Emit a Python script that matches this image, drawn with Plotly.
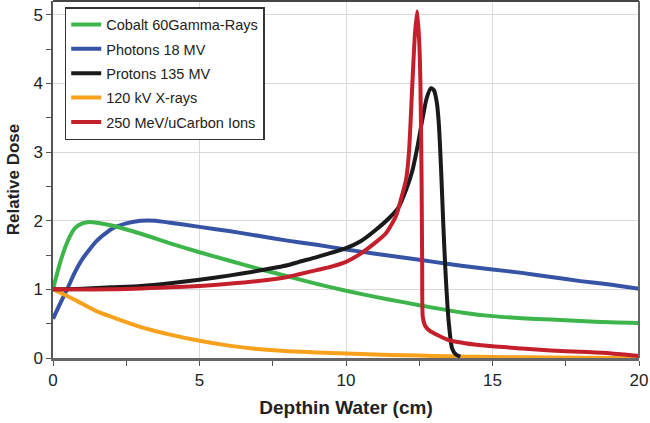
import plotly.graph_objects as go

# ---- data ----
cobalt_x = [0, 0.25, 0.5, 0.75, 1.0, 1.25, 1.5, 2, 3, 4, 5, 6, 7, 8, 9, 10, 11, 12, 13, 14, 15, 16, 17, 18, 19, 20]
cobalt_y = [1.0, 1.4, 1.7, 1.89, 1.96, 1.98, 1.97, 1.93, 1.81, 1.67, 1.54, 1.42, 1.3, 1.19, 1.08, 0.98, 0.89, 0.81, 0.73, 0.66, 0.61, 0.58, 0.56, 0.54, 0.52, 0.51]

photon_x = [0, 0.25, 0.5, 0.75, 1, 1.5, 2, 2.5, 3, 3.5, 4, 5, 6, 7, 8, 9, 10, 11, 12, 13, 14, 15, 16, 17, 18, 19, 20]
photon_y = [0.57, 0.8, 1.02, 1.25, 1.44, 1.71, 1.88, 1.96, 2.0, 2.0, 1.97, 1.91, 1.85, 1.78, 1.71, 1.65, 1.58, 1.52, 1.46, 1.4, 1.34, 1.29, 1.24, 1.18, 1.12, 1.07, 1.01]

proton_x = [0, 1, 2, 3, 4, 5, 6, 7, 8, 8.4, 9, 10, 10.5, 11, 11.5, 11.8, 12.05, 12.26, 12.45, 12.6, 12.75, 12.9, 13.0, 13.1, 13.17, 13.25, 13.32, 13.39, 13.5, 13.62, 13.75, 13.9]
proton_y = [1.0, 1.01, 1.03, 1.05, 1.09, 1.14, 1.2, 1.27, 1.35, 1.4, 1.47, 1.6, 1.7, 1.86, 2.05, 2.2, 2.45, 2.72, 3.1, 3.46, 3.78, 3.93, 3.9, 3.72, 3.4, 2.7, 1.95, 1.3, 0.55, 0.14, 0.05, 0.02]

xray_x = [0, 0.5, 1, 1.5, 2, 3, 4, 5, 6, 7, 8, 9, 10, 11, 12, 13, 14, 15, 16, 18, 20]
xray_y = [1.0, 0.9, 0.79, 0.68, 0.6, 0.45, 0.34, 0.25, 0.18, 0.13, 0.1, 0.08, 0.065, 0.05, 0.04, 0.03, 0.02, 0.015, 0.01, 0.005, 0.0]

carbon_x = [0, 2, 4, 5, 6, 7, 8, 8.4, 9, 9.5, 10, 10.5, 11, 11.35, 11.7, 11.9, 12.05, 12.15, 12.26, 12.35, 12.43, 12.5, 12.54, 12.58, 12.6, 12.62, 12.7, 12.85, 13.5, 14, 15, 16, 17, 18, 19, 19.5, 20]
carbon_y = [1.0, 1.0, 1.03, 1.05, 1.08, 1.12, 1.18, 1.22, 1.28, 1.33, 1.4, 1.52, 1.68, 1.81, 2.06, 2.35, 2.6, 3.0, 3.95, 4.7, 5.05, 4.6, 4.0, 2.6, 1.3, 0.6, 0.47, 0.4, 0.26, 0.22, 0.17, 0.14, 0.11, 0.09, 0.07, 0.05, 0.03]

series = [
    ("Cobalt 60Gamma-Rays", cobalt_x, cobalt_y, "#3db54a"),
    ("Photons 18 MV", photon_x, photon_y, "#3653a5"),
    ("Protons 135 MV", proton_x, proton_y, "#1a1a1a"),
    ("120 kV X-rays", xray_x, xray_y, "#f7a11c"),
    ("250 MeV/uCarbon Ions", carbon_x, carbon_y, "#c4202b"),
]

x_tick_vals = [0, 5, 10, 15, 20]
y_tick_vals = [0, 1, 2, 3, 4, 5]

FONT = "Liberation Sans, Arial, sans-serif"

fig = go.Figure()
order = [1, 0, 3, 2, 4]
for i in order:
    name, xs, ys, col = series[i]
    fig.add_trace(go.Scatter(
        x=xs, y=ys, mode="lines", name=name, legendgroup=name, legendrank=i + 1,
        line=dict(color=col, width=4, shape="spline", smoothing=0.6),
    ))

fig.update_layout(
    width=650, height=423,
    margin=dict(l=53, r=11, t=1, b=65),
    paper_bgcolor="white", plot_bgcolor="white",
    font=dict(family=FONT, color="#222", size=17),
    showlegend=True,
    legend=dict(
        x=0.02, y=0.983, xanchor="left", yanchor="top",
        bgcolor="white", bordercolor="#333", borderwidth=1.5,
        font=dict(family=FONT, size=14.5, color="#222"),
        tracegroupgap=2.5, traceorder="grouped",
    ),
    xaxis=dict(
        range=[0, 20], tickvals=x_tick_vals, ticktext=[str(v) for v in x_tick_vals],
        showgrid=True, gridcolor="#d9d9d9", gridwidth=1,
        ticks="outside", ticklen=5, tickcolor="#555", tickwidth=1,
        minor=dict(dtick=2.5, tick0=0, ticks="outside", ticklen=5, tickcolor="#555", showgrid=False),
        showline=True, linecolor="#666", linewidth=2.5, mirror=False,
        zeroline=False, automargin=False,
        title=dict(text="<b>Depthin Water (cm)</b>", font=dict(size=19, family=FONT, color="#222"), standoff=12),
        tickfont=dict(size=17),
    ),
    yaxis=dict(
        range=[0, 5.2], tickvals=y_tick_vals, ticktext=[str(v) for v in y_tick_vals],
        showgrid=True, gridcolor="#d9d9d9", gridwidth=1,
        ticks="outside", ticklen=5, tickcolor="#555", tickwidth=1,
        minor=dict(dtick=0.5, tick0=0, ticks="outside", ticklen=5, tickcolor="#555", showgrid=False),
        showline=True, linecolor="#555", linewidth=1.5, mirror=False,
        zeroline=False, automargin=False,
        title=dict(text="<b>Relative Dose</b>", font=dict(size=17, family=FONT, color="#222"), standoff=9),
        tickfont=dict(size=17),
    ),
    shapes=[
        dict(type="line", xref="paper", yref="paper", x0=0, x1=1, y0=1, y1=1,
             line=dict(color="#444", width=2)),
        dict(type="line", xref="paper", yref="paper", x0=1, x1=1, y0=0, y1=1,
             line=dict(color="#666", width=2)),
    ],
)

fig.write_html("out.html", config={"displayModeBar": False},
               post_script="document.body.style.margin='0';document.body.style.overflow='hidden';")
